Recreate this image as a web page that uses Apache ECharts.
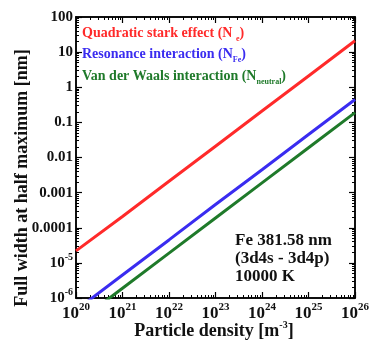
<!DOCTYPE html>
<html>
<head>
<meta charset="utf-8">
<script src="https://cdn.jsdelivr.net/npm/echarts@6/dist/echarts.min.js"></script>
<style>
html, body { margin: 0; padding: 0; background: #fff; }
#chart { width: 372px; height: 345px; }
</style>
</head>
<body>
<div id="chart"></div>
<script>
// values, one point per decade
const density = [1e20, 1e21, 1e22, 1e23, 1e24, 1e25, 1e26]
const starkWidth = [2.2e-5, 2.1e-4, 2.1e-3, 2.1e-2, 0.21, 2.1, 21]
const resonanceWidth = [4.5e-7, 4.5e-6, 4.5e-5, 4.6e-4, 4.5e-3, 4.5e-2, 0.45]
const vdwWidth = [1.9e-7, 1.9e-6, 1.9e-5, 1.9e-4, 1.9e-3, 1.9e-2, 0.19]

const xTickExps = ['20', '21', '22', '23', '24', '25', '26']
const yTickLabels = ['10^-6', '10^-5', '0.0001', '0.001', '0.01', '0.1', '1', '10', '100']

const FONT = '"Liberation Serif", "DejaVu Serif", serif'
const X_MIN = 1e20, X_MAX = 1e26, Y_MIN = 1e-6, Y_MAX = 100

// minor ticks at 2..9 of every decade
function minorTicks(lo, hi) {
    const out = []
    for (let e = lo; e < hi; e++) {
        for (let k = 2; k <= 9; k++) out.push(k * Math.pow(10, e))
    }
    return out
}
const xMinor = minorTicks(20, 26)
const yMinor = minorTicks(-6, 2)

const richX = {
    b: { fontSize: 17, fontWeight: 'bold', fontFamily: FONT, color: '#111' },
    s: { fontSize: 11, fontWeight: 'bold', fontFamily: FONT, color: '#111', padding: [0, 0, 12, 0] }
}
const richY = {
    b: { fontSize: 15, fontWeight: 'bold', fontFamily: FONT, color: '#111' },
    s: { fontSize: 10, fontWeight: 'bold', fontFamily: FONT, color: '#111', padding: [0, 0, 11, 0] }
}

function xAxisDef(pos, showLabel, minor) {
    return {
        type: 'log', logBase: 10, min: X_MIN, max: X_MAX, interval: 1,
        position: pos,
        splitLine: { show: false },
        axisLine: { show: true, lineStyle: { color: '#000', width: 1.5 } },
        axisTick: minor
            ? { show: true, inside: true, length: 3, customValues: xMinor, lineStyle: { color: '#000' } }
            : { show: true, inside: true, length: 6, lineStyle: { color: '#000', width: 1.2 } },
        axisLabel: {
            show: showLabel, margin: 4,
            formatter: v => '{b|10}{s|' + xTickExps[Math.round(Math.log10(v)) - 20] + '}',
            rich: richX
        }
    }
}

function yAxisDef(pos, showLabel, minor) {
    return {
        type: 'log', logBase: 10, min: Y_MIN, max: Y_MAX, interval: 1,
        position: pos,
        splitLine: { show: false },
        axisLine: { show: true, lineStyle: { color: '#000', width: 1.5 } },
        axisTick: minor
            ? { show: true, inside: true, length: 3, customValues: yMinor, lineStyle: { color: '#000' } }
            : { show: true, inside: true, length: 6, lineStyle: { color: '#000', width: 1.2 } },
        axisLabel: {
            show: showLabel, margin: 3,
            formatter: v => {
                const t = yTickLabels[Math.round(Math.log10(v)) + 6]
                if (t.indexOf('^') > 0) {
                    const p = t.split('^')
                    return '{b|' + p[0] + '}{s|' + p[1] + '}'
                }
                return '{b|' + t + '}'
            },
            rich: richY
        }
    }
}

function pairs(ys) {
    return density.map((x, i) => [x, ys[i]])
}

var myChart = echarts.init(document.getElementById('chart'), null, { renderer: 'canvas' })
myChart.setOption({
    animation: false,
    grid: { left: 76, right: 15, top: 17, bottom: 47 },
    xAxis: [
        xAxisDef('bottom', true, false),
        xAxisDef('bottom', false, true),
        xAxisDef('top', false, false),
        xAxisDef('top', false, true)
    ],
    yAxis: [
        yAxisDef('left', true, false),
        yAxisDef('left', false, true),
        yAxisDef('right', false, false),
        yAxisDef('right', false, true)
    ],
    series: [
        {
            name: 'Quadratic stark effect', type: 'line', data: pairs(starkWidth),
            showSymbol: false, lineStyle: { color: '#ff2a2a', width: 3 }
        },
        {
            name: 'Resonance interaction', type: 'line', data: pairs(resonanceWidth),
            showSymbol: false, lineStyle: { color: '#3a2cf0', width: 3 }
        },
        {
            name: 'Van der Waals interaction', type: 'line', data: pairs(vdwWidth),
            showSymbol: false, lineStyle: { color: '#1f7a2a', width: 3 }
        }
    ],
    graphic: [
        {
            type: 'text', x: 22, y: 178, rotation: Math.PI / 2,
            style: {
                text: 'Full width at half maximum [nm]', font: 'bold 18px ' + FONT,
                fill: '#111', align: 'center', verticalAlign: 'middle'
            }
        },
        {
            type: 'text', x: 214, y: 331,
            style: {
                text: '{b|Particle density [m}{s|-3}{b|]}', align: 'center', verticalAlign: 'middle',
                rich: {
                    b: { fontSize: 18, fontWeight: 'bold', fontFamily: FONT, fill: '#111' },
                    s: { fontSize: 10, fontWeight: 'bold', fontFamily: FONT, fill: '#111', padding: [0, 0, 12, 0] }
                }
            }
        },
        {
            type: 'text', x: 82, y: 33,
            style: {
                text: '{b|Quadratic stark effect (N }{s|e}{b|)}', verticalAlign: 'middle',
                rich: {
                    b: { fontSize: 14, fontWeight: 'bold', fontFamily: FONT, fill: '#ff2a2a' },
                    s: { fontSize: 8, fontWeight: 'bold', fontFamily: FONT, fill: '#ff2a2a', padding: [12, 0, 0, 0] }
                }
            }
        },
        {
            type: 'text', x: 82, y: 54,
            style: {
                text: '{b|Resonance interaction (N}{s|Fe}{b|)}', verticalAlign: 'middle',
                rich: {
                    b: { fontSize: 14, fontWeight: 'bold', fontFamily: FONT, fill: '#3a2cf0' },
                    s: { fontSize: 8, fontWeight: 'bold', fontFamily: FONT, fill: '#3a2cf0', padding: [12, 0, 0, 0] }
                }
            }
        },
        {
            type: 'text', x: 82, y: 76,
            style: {
                text: '{b|Van der Waals interaction (N}{s|neutral}{b|)}', verticalAlign: 'middle',
                rich: {
                    b: { fontSize: 14, fontWeight: 'bold', fontFamily: FONT, fill: '#1f7a2a' },
                    s: { fontSize: 8, fontWeight: 'bold', fontFamily: FONT, fill: '#1f7a2a', padding: [12, 0, 0, 0] }
                }
            }
        },
        {
            type: 'text', x: 235, y: 232,
            style: {
                text: 'Fe 381.58 nm\n(3d4s - 3d4p)\n10000 K', font: 'bold 17px ' + FONT,
                lineHeight: 18, fill: '#111', align: 'left'
            }
        }
    ]
})
</script>
</body>
</html>
